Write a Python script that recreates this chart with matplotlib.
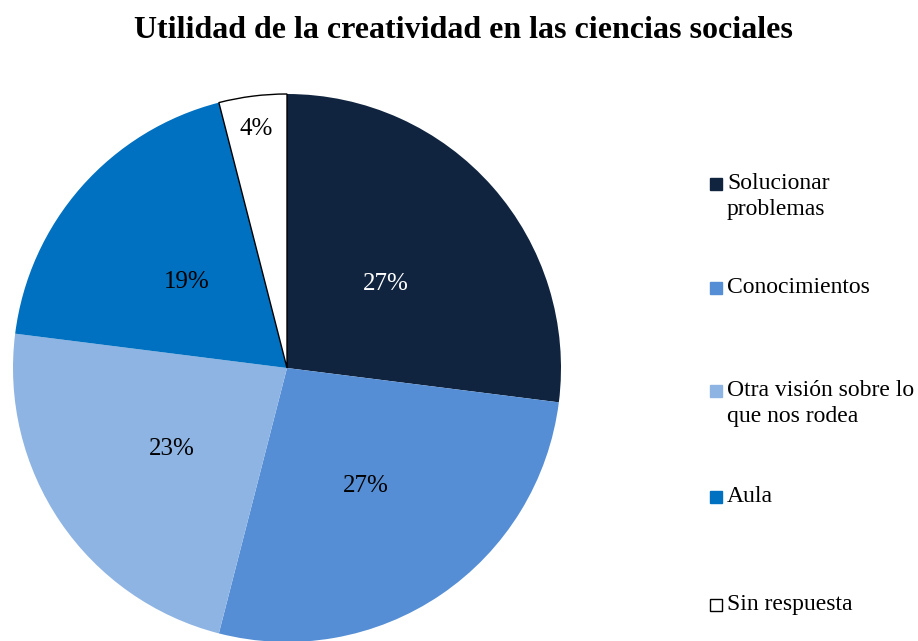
import numpy as np
import matplotlib.pyplot as plt
from matplotlib.patches import Rectangle

plt.rcParams['font.family'] = ['Liberation Serif', 'DejaVu Serif']

categories = ['Solucionar\nproblemas', 'Conocimientos',
              'Otra visión sobre lo\nque nos rodea', 'Aula', 'Sin respuesta']
values = [27, 27, 23, 19, 4]
pct_labels = ['27%', '27%', '23%', '19%', '4%']

colors = ['#10243f', '#558ed5', '#8eb4e3', '#0070c0', '#ffffff']
label_colors = ['white', 'black', 'black', 'black', 'black']
label_dist = [0.48, 0.51, 0.51, 0.49, 0.89]

W, H = 918, 641
fig = plt.figure(figsize=(W / 100, H / 100), dpi=100)

# pie axes: center and radius in pixels
cx, cy, r = 287, 368, 274
ax = fig.add_axes([(cx - r) / W, (H - cy - r) / H, 2 * r / W, 2 * r / H])
wedges, _ = ax.pie(values, colors=colors, startangle=90, counterclock=False,
                   radius=1, wedgeprops=dict(linewidth=0))
wedges[4].set_edgecolor('black')
wedges[4].set_linewidth(1.0)
for w in wedges:
    w.set_clip_on(False)
ax.set_xlim(-1, 1)
ax.set_ylim(-1, 1)
ax.set_aspect('equal')
ax.axis('off')

# percentage labels at the middle of each slice
total = sum(values)
cum = 0
for v, lab, c, d in zip(values, pct_labels, label_colors, label_dist):
    mid = np.deg2rad(90 - (cum + v / 2) / total * 360)
    ax.text(d * np.cos(mid), d * np.sin(mid), lab, ha='center',
            va='center_baseline', fontsize=18, color=c)
    cum += v

fig.text(463 / W, 1 - 30 / H, 'Utilidad de la creatividad en las ciencias sociales',
         ha='center', va='center', fontsize=23, fontweight='bold')

# legend on the right
leg_y = [184, 288, 391, 497, 605]
for lab, col, y in zip(categories, colors, leg_y):
    fig.patches.append(Rectangle((710 / W, 1 - (y + 6) / H), 12 / W, 12 / H,
                                 transform=fig.transFigure, facecolor=col,
                                 edgecolor='black' if col == '#ffffff' else col,
                                 linewidth=1.0))
    fig.text(727 / W, 1 - (y - 11) / H, lab, ha='left', va='top',
             fontsize=17, linespacing=1.3)

fig.savefig('out.png', dpi=100)
